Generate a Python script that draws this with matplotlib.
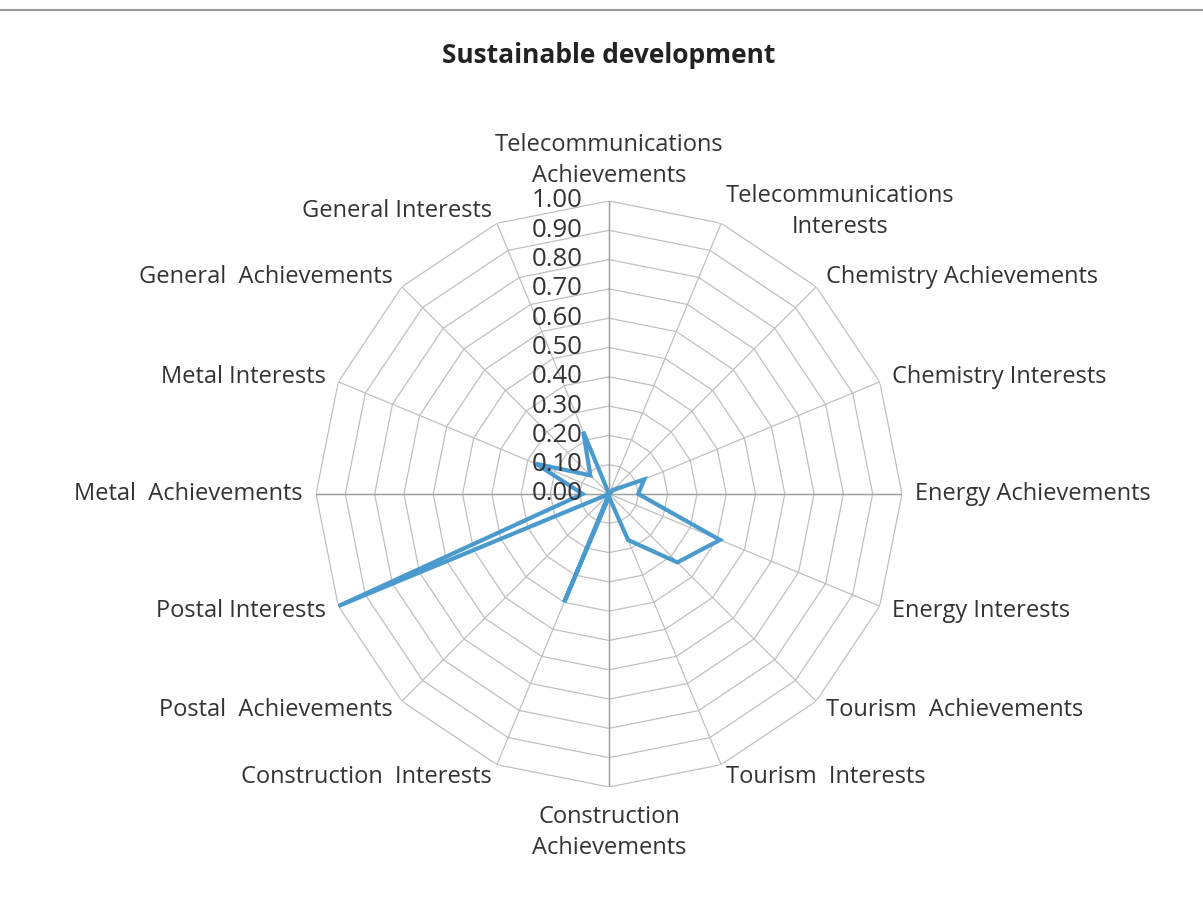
import numpy as np
import matplotlib
matplotlib.use("Agg")
import matplotlib.pyplot as plt
from matplotlib.lines import Line2D

plt.rcParams['font.family'] = ['Open Sans', 'DejaVu Sans']

categories = [
    'Telecommunications\nAchievements',
    'Telecommunications\nInterests',
    'Chemistry Achievements',
    'Chemistry Interests',
    'Energy Achievements',
    'Energy Interests',
    'Tourism  Achievements',
    'Tourism  Interests',
    'Construction\nAchievements',
    'Construction  Interests',
    'Postal  Achievements',
    'Postal Interests',
    'Metal  Achievements',
    'Metal Interests',
    'General  Achievements',
    'General Interests',
]
values = [0.00, 0.00, 0.02, 0.13, 0.10, 0.41, 0.33, 0.17,
          0.01, 0.40, 0.00, 1.00, 0.09, 0.27, 0.09, 0.23]
ticks = [0.0, 0.1, 0.2, 0.3, 0.4, 0.5, 0.6, 0.7, 0.8, 0.9, 1.0]

n = len(categories)
angles = np.arange(n) * 2 * np.pi / n

fig = plt.figure(figsize=(12.03, 9.02), dpi=100)
ax = fig.add_axes([0.2627, 0.1275, 0.4871, 0.6497], projection='polar')
ax.set_theta_offset(np.pi / 2)
ax.set_theta_direction(-1)
ax.set_ylim(0, 1)
ax.grid(False)
ax.spines['polar'].set_visible(False)
ax.set_xticks([])
ax.set_yticks([])
ax.patch.set_alpha(0)

grid_col = '#c0c0c0'
closed = np.append(angles, angles[0])
for t in ticks[1:]:
    ax.plot(closed, [t] * (n + 1), color=grid_col, lw=0.9, zorder=1)
for a in angles:
    ax.plot([a, a], [0, 1], color=grid_col, lw=0.9, zorder=1)
for a in [0, np.pi / 2, np.pi, 3 * np.pi / 2]:
    ax.plot([a, a], [0, 1], color='#a0a0a0', lw=1.0, zorder=1)

ax.plot(closed, values + [values[0]], color='#4a9acd', lw=3.0,
        solid_joinstyle='miter', zorder=3)

# tick labels along top spoke
for t in ticks:
    ax.annotate('%.2f' % t, xy=(0, t), xytext=(-19, 0), textcoords='offset points',
                ha='right', va='center', fontsize=18.5, color='#333333', zorder=4)

for a, lab in zip(angles, categories):
    s = np.sin(a)
    c = np.cos(a)
    if s > 0.01:
        ha = 'left'
    elif s < -0.01:
        ha = 'right'
    else:
        ha = 'center'
    va = 'center'
    r = 1.045
    if c > 0.99:
        va = 'bottom'
    elif c < -0.99:
        va = 'top'
        r = 1.06
    ax.text(a, r, lab, ha=ha, va=va, ma='center', fontsize=17,
            color='#333333', linespacing=1.4)

fig.text(0.506, 0.938, 'Sustainable development', ha='center', va='center',
         fontsize=19, fontweight='bold', color='#222222')
fig.add_artist(Line2D([0, 1], [1 - 10 / 902, 1 - 10 / 902], color='#999999', lw=1.5))

fig.savefig('out.png', dpi=100)
